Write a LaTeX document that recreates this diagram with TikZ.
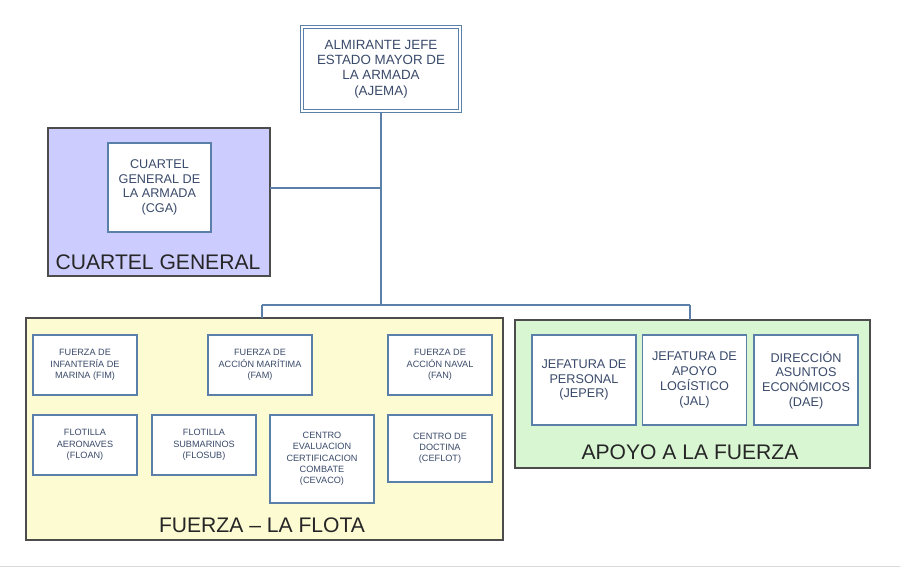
\documentclass[tikz,border=0pt]{standalone}
\usepackage{fontspec}
\setmainfont{Liberation Sans}
\definecolor{boxline}{HTML}{5A7FA8}
\definecolor{txt}{HTML}{3A4A6A}
\definecolor{cgfill}{HTML}{CCCCFF}
\definecolor{flfill}{HTML}{FDFBD2}
\definecolor{apfill}{HTML}{D8F6D2}
\tikzset{
  unit/.style={draw=boxline, fill=white, line width=0.8pt, align=center, text=txt, inner sep=1pt},
  group/.style={draw=black!70, line width=0.8pt},
  link/.style={draw=boxline, line width=1pt},
  grouplabel/.style={font=\fontsize{15}{15}\selectfont, text=black!85}
}
\begin{document}
\begin{tikzpicture}[x=0.025cm, y=-0.025cm]
		\useasboundingbox (0,0) rectangle (900,570);
		% groups
		\draw[group, fill=cgfill] (48,128) rectangle (270,276);
		\draw[group, fill=flfill] (26,318) rectangle (503,540);
		\draw[group, fill=apfill] (515,320) rectangle (870,468);
		\node[grouplabel] (lcg) at (158,262) {CUARTEL GENERAL};
		\node[grouplabel] (lfl) at (262,525) {FUERZA -- LA FLOTA};
		\node[grouplabel] (lap) at (690,452) {APOYO A LA FUERZA};
		% top
		\node[unit, double, double distance=1.2pt, font=\fontsize{9.5}{11}\selectfont, minimum height=84*0.025cm, minimum width=158*0.025cm] (ajema) at (381,69) {ALMIRANTE JEFE\\ESTADO MAYOR DE\\LA ARMADA\\(AJEMA)};
		\node[unit, font=\fontsize{9}{10.5}\selectfont, minimum width=103*0.025cm, minimum height=89*0.025cm] (cga) at (159.5,187.5) {CUARTEL\\GENERAL DE\\LA ARMADA\\(CGA)};
		% fuerza
		\tikzset{small/.style={unit, font=\fontsize{6.5}{8}\selectfont, minimum width=104*0.025cm, minimum height=60*0.025cm}}
		\node[small] (fim) at (85,365) {FUERZA DE\\INFANTERÍA DE\\MARINA (FIM)};
		\node[small] (fam) at (260,365) {FUERZA DE\\ACCIÓN MARÍTIMA\\(FAM)};
		\node[small] (fan) at (440,365) {FUERZA DE\\ACCIÓN NAVAL\\(FAN)};
		\node[small] (floan) at (85,445) {FLOTILLA\\AERONAVES\\(FLOAN)};
		\node[small] (flosub) at (204,445) {FLOTILLA\\SUBMARINOS\\(FLOSUB)};
		\node[small, minimum height=88*0.025cm] (cevaco) at (322,459) {CENTRO\\EVALUACION\\CERTIFICACION\\COMBATE\\(CEVACO)};
		\node[small, minimum height=67*0.025cm] (ceflot) at (440,448.5) {CENTRO DE\\DOCTINA\\(CEFLOT)};
		% apoyo
		\tikzset{mid/.style={unit, font=\fontsize{9}{10.5}\selectfont, minimum width=104*0.025cm, minimum height=90*0.025cm}}
		\node[mid] (jeper) at (584,380) {JEFATURA DE\\PERSONAL\\(JEPER)};
		\node[mid] (jal) at (694.5,380) {JEFATURA DE\\APOYO\\LOGÍSTICO\\(JAL)};
		\node[mid] (dae) at (806,380) {DIRECCIÓN\\ASUNTOS\\ECONÓMICOS\\(DAE)};
		% links
		\coordinate (bus) at (381,305);
		\coordinate (tcg) at (381,188);
		\coordinate (bl) at (262,305);
		\coordinate (br) at (690,305);
		\draw[link] (ajema.south) -- (bus);
		\draw[link] (270,188) -- (tcg);
		\draw[link] (bl) -- (br);
		\draw[link] (bl) -- (262,318);
		\draw[link] (br) -- (690,320);
		\draw[black!15] (0,566) -- (900,566);
\end{tikzpicture}
\end{document}
